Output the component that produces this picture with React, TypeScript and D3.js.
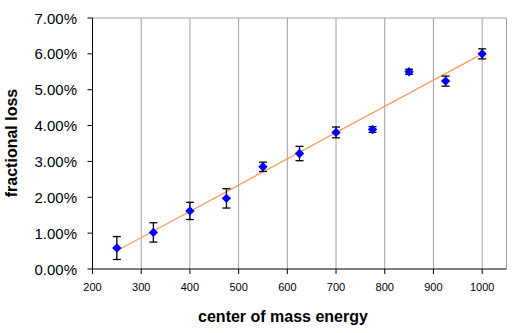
import React from "react";
import * as d3 from "d3";

const energies = [250, 325, 400, 475, 550, 625, 700, 775, 850, 925, 1000];
const losses = [0.585, 1.02, 1.62, 1.97, 2.85, 3.22, 3.81, 3.89, 5.5, 5.24, 6.0];
const errors = [0.32, 0.27, 0.24, 0.27, 0.13, 0.2, 0.15, 0.08, 0.07, 0.14, 0.14];
const trendX = [250, 1000];
const trendY = [0.51, 6.0];
const xTicks = [200, 300, 400, 500, 600, 700, 800, 900, 1000];
const yTicks = [0, 1, 2, 3, 4, 5, 6, 7];

export default function App() {
  const W = 526, H = 333;
  const left = 92.5, right = 506.5, top = 18, bottom = 269;
  const x = d3.scaleLinear().domain([200, 1050]).range([left, right]);
  const y = d3.scaleLinear().domain([0, 7]).range([bottom, top]);
  const diamond = d3.symbol().type(d3.symbolSquare).size(44)();
  const line = d3.line<number>().x((d, i) => x(trendX[i])).y((d, i) => y(trendY[i]));
  const font = "Liberation Sans, Arial, sans-serif";
  return (
    <svg width={W} height={H} style={{ position: "absolute", left: 0, top: 0 }} fontFamily={font}>
      <rect x={0} y={0} width={W} height={H} fill="#fff" />
      {xTicks.filter(t => t > 200).map(t => (
        <line key={t} x1={x(t)} x2={x(t)} y1={top} y2={bottom} stroke="#a0a0a0" strokeWidth={1} />
      ))}
      <line x1={left} x2={right} y1={top} y2={top} stroke="#a0a0a0" />
      <line x1={right} x2={right} y1={top} y2={bottom} stroke="#a0a0a0" />
      <line x1={left} x2={left} y1={top} y2={bottom} stroke="#000" />
      <line x1={left} x2={right} y1={bottom} y2={bottom} stroke="#000" />
      {yTicks.map(t => (
        <g key={t}>
          <line x1={left - 5} x2={left} y1={y(t)} y2={y(t)} stroke="#000" />
          <text x={77} y={y(t) + 5.5} textAnchor="end" fontSize={15} fill="#000">
            {t.toFixed(2) + "%"}
          </text>
        </g>
      ))}
      {xTicks.map(t => (
        <g key={t}>
          <line x1={x(t)} x2={x(t)} y1={bottom} y2={bottom + 5} stroke="#000" />
          <text x={x(t)} y={291} textAnchor="middle" fontSize={11} fill="#000">
            {t}
          </text>
        </g>
      ))}
      <path d={line(trendY) || ""} fill="none" stroke="#ff9a5a" strokeWidth={1.2} />
      {energies.map((e, i) => (
        <g key={e}>
          <line x1={x(e)} x2={x(e)} y1={y(losses[i] - errors[i])} y2={y(losses[i] + errors[i])} stroke="#000" strokeWidth={1.3} />
          <line x1={x(e) - 4} x2={x(e) + 4} y1={y(losses[i] - errors[i])} y2={y(losses[i] - errors[i])} stroke="#000" strokeWidth={1.3} />
          <line x1={x(e) - 4} x2={x(e) + 4} y1={y(losses[i] + errors[i])} y2={y(losses[i] + errors[i])} stroke="#000" strokeWidth={1.3} />
          <path d={diamond || ""} transform={`translate(${x(e)},${y(losses[i])}) rotate(45)`} fill="#0000ff" />
        </g>
      ))}
      <text x={283} y={322} textAnchor="middle" fontSize={16} fontWeight="bold" fill="#000">
        center of mass energy
      </text>
      <text transform="translate(17,143) rotate(-90)" textAnchor="middle" fontSize={16} fontWeight="bold" fill="#000">
        fractional loss
      </text>
    </svg>
  );
}
